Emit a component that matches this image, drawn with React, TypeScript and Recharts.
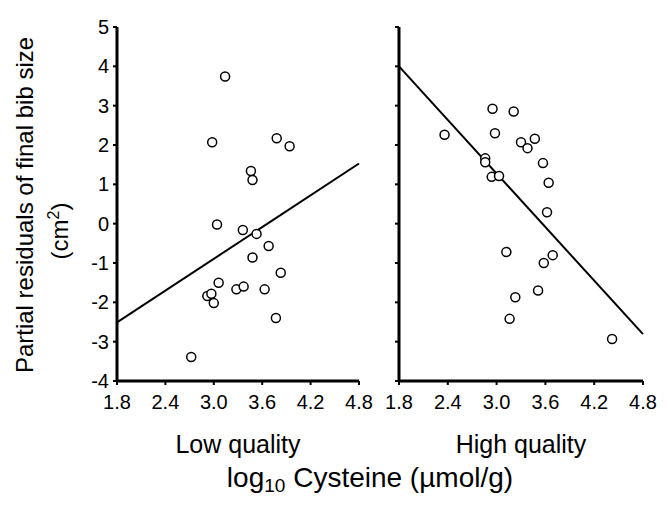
import { ScatterChart, Scatter, XAxis, YAxis, ReferenceLine } from 'recharts';

// log10 cysteine vs partial residuals, low quality diet
const lowX = [3.14, 2.98, 3.78, 3.94, 3.46, 3.48, 3.04, 3.36, 3.53, 3.68, 3.48, 3.83, 3.06, 3.28, 3.37, 3.63, 2.92, 2.97, 3.0, 3.77, 2.72];
const lowY = [3.74, 2.07, 2.17, 1.97, 1.34, 1.11, -0.02, -0.16, -0.26, -0.57, -0.86, -1.25, -1.5, -1.67, -1.6, -1.67, -1.84, -1.78, -2.02, -2.4, -3.39];

// high quality diet
const highX = [2.36, 2.95, 3.21, 2.98, 3.3, 3.47, 3.38, 2.86, 2.86, 3.57, 2.94, 3.03, 3.64, 3.62, 3.12, 3.69, 3.58, 3.51, 3.23, 3.16, 4.42];
const highY = [2.26, 2.92, 2.85, 2.3, 2.07, 2.16, 1.92, 1.66, 1.56, 1.54, 1.19, 1.21, 1.04, 0.29, -0.72, -0.8, -1.0, -1.7, -1.87, -2.42, -2.93];

// fitted lines (start / end)
const lowFitX = [1.8, 4.8];
const lowFitY = [-2.51, 1.53];
const highFitX = [1.8, 4.8];
const highFitY = [4.0, -2.81];

const xTicks = [1.8, 2.4, 3.0, 3.6, 4.2, 4.8];
const yTicks = [-4, -3, -2, -1, 0, 1, 2, 3, 4, 5];

const FONT = '"Liberation Sans", Arial, sans-serif';

const toPts = (xs: number[], ys: number[]) => xs.map((x, i) => ({ x, y: ys[i] }));

const Ring = (props: any) => (
  <circle cx={props.cx} cy={props.cy} r={4.5} fill="white" stroke="#000" strokeWidth={1.5} />
);

function Panel({ xs, ys, fx, fy, showY, width, margin, yWidth }: any) {
  const tick = { fontSize: 20, fill: '#000', fontFamily: FONT };
  return (
    <ScatterChart width={width} height={506} margin={margin} style={{ overflow: 'visible' }}>
      <XAxis
        type="number"
        dataKey="x"
        domain={[1.8, 4.8]}
        ticks={xTicks}
        tickFormatter={(v) => v.toFixed(1)}
        tick={tick}
        axisLine={{ stroke: '#000', strokeWidth: 3 }}
        tickLine={{ stroke: '#000', strokeWidth: 2 }}
        tickSize={4}
        tickMargin={10}
        height={125}
        interval={0}
        allowDataOverflow
      />
      <YAxis
        type="number"
        dataKey="y"
        domain={[-4, 5]}
        ticks={yTicks}
        tick={tick}
        tickFormatter={(v) => (showY ? String(v) : '')}
        axisLine={{ stroke: '#000', strokeWidth: 3 }}
        tickLine={{ stroke: '#000', strokeWidth: 2 }}
        tickSize={4}
        tickMargin={4}
        width={yWidth}
        interval={0}
        allowDataOverflow
      />
      <ReferenceLine
        segment={[{ x: fx[0], y: fy[0] }, { x: fx[1], y: fy[1] }]}
        stroke="#000"
        strokeWidth={2}
      />
      <Scatter data={toPts(xs, ys)} shape={Ring} isAnimationActive={false} />
    </ScatterChart>
  );
}

export default function App() {
  return (
    <div style={{ position: 'absolute', left: 0, top: 0, width: 667, height: 506, background: '#fff', fontFamily: FONT }}>
      <div style={{ position: 'absolute', left: 0, top: 0 }}>
        <Panel xs={lowX} ys={lowY} fx={lowFitX} fy={lowFitY} showY width={380}
          margin={{ top: 27, right: 21, bottom: 0, left: 77 }} yWidth={40} />
      </div>
      <div style={{ position: 'absolute', left: 380, top: 0 }}>
        <Panel xs={highX} ys={highY} fx={highFitX} fy={highFitY} showY={false} width={287}
          margin={{ top: 27, right: 24, bottom: 0, left: 0 }} yWidth={19} />
      </div>
      <svg width={667} height={506} style={{ position: 'absolute', left: 0, top: 0, pointerEvents: 'none' }}
        fontFamily={FONT} fill="#000">
        <text x={238} y={453} fontSize={25} textAnchor="middle">Low quality</text>
        <text x={521} y={453} fontSize={25} textAnchor="middle">High quality</text>
        <text x={370} y={487} fontSize={28} textAnchor="middle">
          log<tspan fontSize={19} dy={5}>10</tspan><tspan dy={-5}> Cysteine (µmol/g)</tspan>
        </text>
        <text transform="translate(33,205) rotate(-90)" fontSize={24} textAnchor="middle">
          Partial residuals of final bib size
        </text>
        <text transform="translate(68,231) rotate(-90)" fontSize={24} textAnchor="middle">
          (cm<tspan fontSize={16} dy={-9}>2</tspan><tspan dy={9}>)</tspan>
        </text>
      </svg>
    </div>
  );
}
